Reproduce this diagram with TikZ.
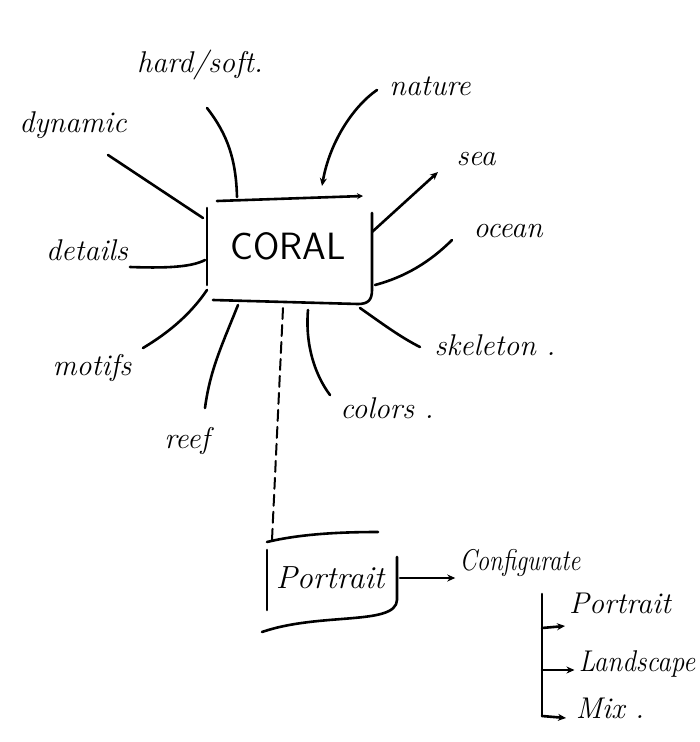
\documentclass[tikz,border=0pt]{standalone}
\usepackage{graphicx}
\usetikzlibrary{arrows.meta}
\begin{document}
\begin{tikzpicture}[x=1pt,y=-1pt, line width=2.6pt, line cap=round, line join=round]
\tikzset{
  lbl/.style={font=\fontsize{30}{32}\selectfont\itshape, inner sep=0pt},
  centre/.style={inner sep=0pt, font=\fontsize{38}{40}\selectfont\sffamily},
  arr/.style={-{Stealth[length=8pt,width=7pt]}},
  hook/.style={-{Stealth[length=6pt,width=6pt]}},
  dashline/.style={line width=2pt, dash pattern=on 11pt off 6pt}
}
\useasboundingbox (0,0) rectangle (700,742);
\fill[white] (0,0) rectangle (700,742);

% central node and its hand-drawn frame
\node[centre] (coral) at (288,246) {CORAL};
\coordinate (bTL) at (217,201); \coordinate (bTR) at (363,196);
\coordinate (bLT) at (207,208); \coordinate (bLB) at (207,285);
\coordinate (bBL) at (213,300); \coordinate (bRT) at (372,213);
\draw[hook] (bTL) -- (bTR);
\draw (bLT) -- (bLB);
\draw (bRT) -- (372,290) .. controls (372,300) and (368,304) .. (358,304) -- (bBL);

% labels
\node[lbl] (hard) at (200,65) {hard/soft.};
\node[lbl] (nature) at (430,86) {nature};
\node[lbl] (dyn) at (73,125) {dynamic};
\node[lbl] (sea) at (476,159) {sea};
\node[lbl] (det) at (87,250) {details};
\node[lbl] (ocean) at (508,231) {ocean};
\node[lbl] (motifs) at (92,368) {motifs};
\node[lbl] (skel) at (495,345) {skeleton .};
\node[lbl] (reef) at (187,441) {reef};
\node[lbl] (colors) at (387,408) {colors .};

% connector ends
\coordinate (hA) at (237,197); \coordinate (hB) at (207,108);
\coordinate (nA) at (377,90);  \coordinate (nB) at (322,186);
\coordinate (dA) at (108,155); \coordinate (dB) at (203,218);
\coordinate (sA) at (372,232); \coordinate (sB) at (438,172);
\coordinate (tA) at (130,267); \coordinate (tB) at (205,260);
\coordinate (oA) at (375,285); \coordinate (oB) at (452,240);
\coordinate (mA) at (143,348); \coordinate (mB) at (207,290);
\coordinate (rA) at (205,408); \coordinate (rB) at (238,305);
\coordinate (cA) at (308,310); \coordinate (cB) at (330,395);
\coordinate (kA) at (360,308); \coordinate (kB) at (420,347);

\draw (hA) .. controls (236,160) and (228,135) .. (hB);
\draw[arr] (nA) .. controls (355,105) and (330,140) .. (nB);
\draw (dA) -- (dB);
\draw[arr] (sA) -- (sB);
\draw (tA) .. controls (160,268) and (190,268) .. (tB);
\draw (oA) .. controls (405,277) and (430,262) .. (oB);
\draw (mA) .. controls (168,333) and (190,315) .. (mB);
\draw (rA) .. controls (210,370) and (222,345) .. (rB);
\draw (cA) .. controls (305,345) and (315,375) .. (cB);
\draw (kA) .. controls (380,322) and (400,337) .. (kB);

% second box
\node[font=\fontsize{32}{34}\selectfont\itshape, inner sep=0pt] (port) at (330,578) {Portrait};
\coordinate (pTopL) at (267,542); \coordinate (pTopR) at (378,532);
\coordinate (pLT) at (267,550); \coordinate (pLB) at (267,610);
\coordinate (pBL) at (262,632); \coordinate (pRB) at (397,600); \coordinate (pRT) at (397,557);
\draw (pTopL) .. controls (300,534) and (340,532) .. (pTopR);
\draw (pLT) -- (pLB);
\draw (pBL) .. controls (320,612) and (396,626) .. (pRB) -- (pRT);

\draw[dashline] (283,308) -- (272,540);

\node[lbl] (conf) at (520,563) {\scalebox{0.82}[1]{Configurate}};
\coordinate (pOut) at (400,578);
\draw[arr] (pOut) -- ([xshift=-3pt]conf.west |- pOut);

% tree
\node[lbl] (p2) at (620,603) {Portrait};
\node[lbl] (land) at (637,664) {\scalebox{0.9}[1]{Landscape}};
\node[lbl] (mix) at (610,708) {Mix .};
\coordinate (tTop) at (542,594); \coordinate (tBot) at (542,716);
\draw (tTop) -- (tBot);
\draw[arr] (542,628) -- (565,626);
\draw[arr] (542,670) -- ([xshift=-3pt]land.west |- 0,670);
\draw[arr] (tBot) -- (566,718);
\end{tikzpicture}
\end{document}
